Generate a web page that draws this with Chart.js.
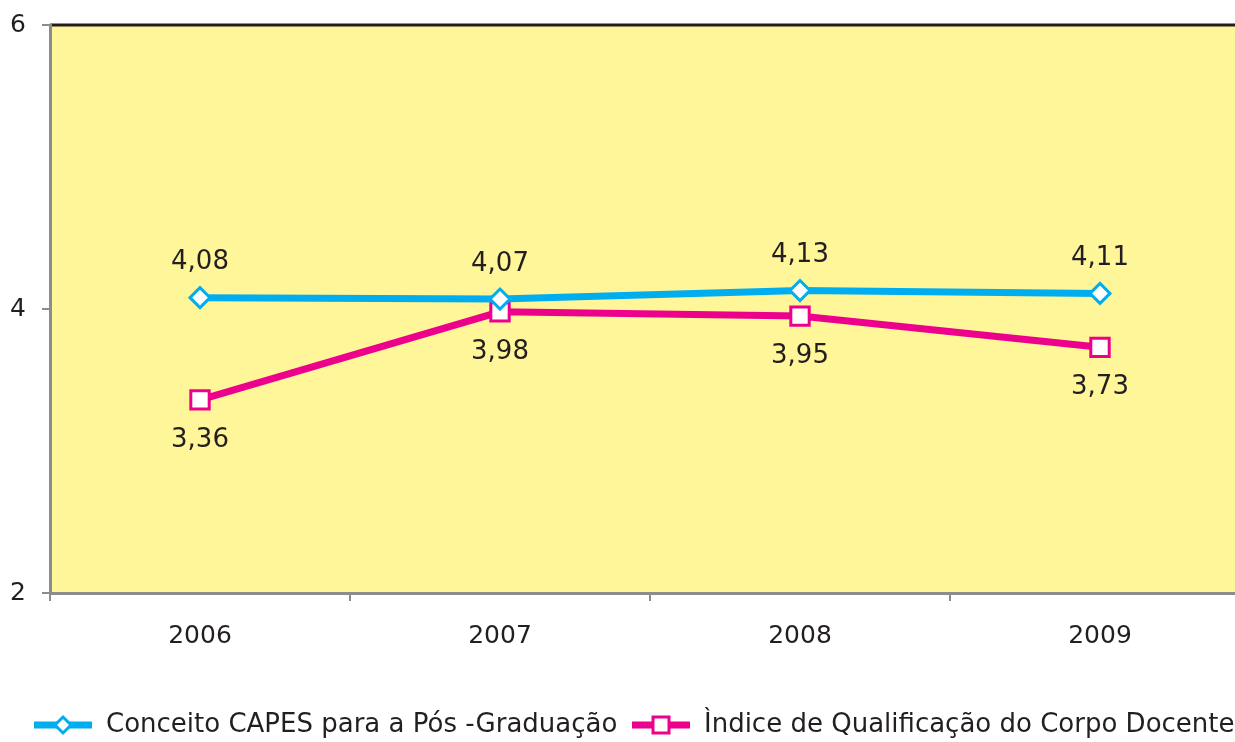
<!DOCTYPE html>
<html>
<head>
<meta charset="utf-8">
<script src="https://cdn.jsdelivr.net/npm/chart.js@4"></script>
<style>
  html, body { margin: 0; padding: 0; background: #fff; overflow: hidden; }
</style>
</head>
<body>
<canvas id="chart" width="1266" height="742"></canvas>
<script>
const years = ['2006', '2007', '2008', '2009'];
const capesValues = [4.08, 4.07, 4.13, 4.11];
const docenteValues = [3.36, 3.98, 3.95, 3.73];
const seriesNames = ['Conceito CAPES para a Pós -Graduação', 'Ìndice de Qualificação do Corpo Docente'];
const yTicks = [2, 4, 6];

const BLUE = '#00aeef';
const PINK = '#ec008c';
const FONT = '"DejaVu Sans", Verdana, sans-serif';

// yellow plot background + dark top border
const plotBg = {
  id: 'plotBg',
  beforeDraw(chart) {
    const { ctx, chartArea: a } = chart;
    ctx.save();
    ctx.fillStyle = '#fff599';
    ctx.fillRect(a.left, a.top, a.right - a.left, a.bottom - a.top);
    ctx.strokeStyle = '#231f20';
    ctx.lineWidth = 3;
    ctx.beginPath();
    ctx.moveTo(a.left, a.top);
    ctx.lineTo(a.right, a.top);
    ctx.stroke();
    ctx.restore();
  }
};

// value labels, comma as decimal separator
const valueLabels = {
  id: 'valueLabels',
  afterDatasetsDraw(chart) {
    const { ctx } = chart;
    ctx.save();
    ctx.font = '26px ' + FONT;
    ctx.fillStyle = '#231f20';
    ctx.textAlign = 'center';
    ctx.textBaseline = 'middle';
    chart.data.datasets.forEach((ds, i) => {
      chart.getDatasetMeta(i).data.forEach((pt, j) => {
        const txt = ds.data[j].toFixed(2).replace('.', ',');
        const dy = i === 0 ? -35 : 40;
        ctx.fillText(txt, pt.x, pt.y + dy);
      });
    });
    ctx.restore();
  }
};

// legend: line with marker, then name
const lineLegend = {
  id: 'lineLegend',
  afterDraw(chart) {
    const { ctx } = chart;
    const y = 725;
    const items = [
      { x: 34, color: BLUE, shape: 'diamond', text: seriesNames[0] },
      { x: 632, color: PINK, shape: 'square', text: seriesNames[1] }
    ];
    ctx.save();
    items.forEach(it => {
      ctx.strokeStyle = it.color;
      ctx.lineWidth = 7;
      ctx.beginPath();
      ctx.moveTo(it.x, y);
      ctx.lineTo(it.x + 58, y);
      ctx.stroke();
      const cx = it.x + 29;
      ctx.fillStyle = '#fff';
      ctx.lineWidth = 3;
      ctx.beginPath();
      if (it.shape === 'diamond') {
        ctx.moveTo(cx, y - 8); ctx.lineTo(cx + 8, y); ctx.lineTo(cx, y + 8); ctx.lineTo(cx - 8, y);
      } else {
        ctx.rect(cx - 8, y - 8, 16, 16);
      }
      ctx.closePath();
      ctx.fill();
      ctx.stroke();
      ctx.fillStyle = '#231f20';
      ctx.font = '26px ' + FONT;
      ctx.textAlign = 'left';
      ctx.textBaseline = 'middle';
      ctx.fillText(it.text, it.x + 72, y);
    });
    ctx.restore();
  }
};

new Chart(document.getElementById('chart'), {
  type: 'line',
  data: {
    labels: years,
    datasets: [{
      label: seriesNames[0],
      data: capesValues,
      borderColor: BLUE,
      borderWidth: 7,
      pointStyle: 'rectRot',
      pointRadius: 10,
      pointBorderWidth: 3,
      pointBackgroundColor: '#fff',
      pointBorderColor: BLUE,
      tension: 0
    }, {
      label: seriesNames[1],
      data: docenteValues,
      borderColor: PINK,
      borderWidth: 7,
      pointStyle: 'rect',
      pointRadius: 13,
      pointBorderWidth: 3,
      pointBackgroundColor: '#fff',
      pointBorderColor: PINK,
      tension: 0
    }]
  },
  options: {
    responsive: false,
    animation: false,
    layout: { padding: { top: 25, right: 0, left: 0, bottom: 0 } },
    plugins: {
      legend: { display: false },
      tooltip: { enabled: false }
    },
    scales: {
      x: {
        offset: true,
        grid: { display: true, drawOnChartArea: false, offset: true, tickLength: 8, color: '#8c8c8c', lineWidth: 2 },
        border: { color: '#8c8c8c', width: 3 },
        ticks: { color: '#231f20', font: { family: FONT, size: 25 }, padding: 20 },
        afterFit(scale) { scale.height = 149; }
      },
      y: {
        min: 2,
        max: 6,
        afterBuildTicks(scale) { scale.ticks = yTicks.map(v => ({ value: v })); },
        grid: { display: true, drawOnChartArea: false, tickLength: 8, color: '#8c8c8c', lineWidth: 2 },
        border: { color: '#8c8c8c', width: 3 },
        ticks: { color: '#231f20', font: { family: FONT, size: 25 }, padding: 16 },
        afterFit(scale) {
          scale.width = 50;
          scale.paddingTop = 0;
          scale.paddingBottom = 0;
        }
      }
    }
  },
  plugins: [plotBg, valueLabels, lineLegend]
});
</script>
</body>
</html>
